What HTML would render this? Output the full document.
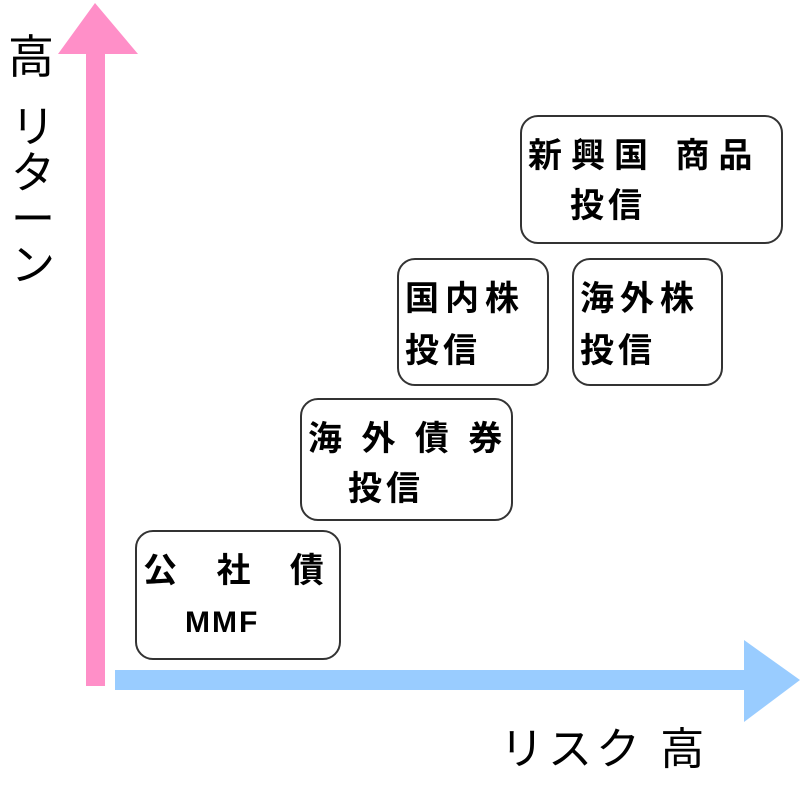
<!DOCTYPE html>
<html><head><meta charset="utf-8"><style>
body{margin:0;width:800px;height:800px;background:#fff;position:relative;overflow:hidden;font-family:"Liberation Sans","Noto Sans CJK JP",sans-serif}
.t{position:absolute;color:#000;line-height:1}
.b{position:absolute;border:2px solid #333;border-radius:18px;box-sizing:border-box;font-weight:bold;font-size:34px;color:#000;line-height:1}
.b span{position:absolute;white-space:pre}
</style></head><body>
<svg width="800" height="800" style="position:absolute;left:0;top:0">
<rect x="86" y="52" width="19" height="634" fill="#ff8fc8"/>
<polygon points="95,3 138,54 58,54" fill="#ff8fc8"/>
<rect x="115" y="670" width="635" height="20" fill="#99ccff"/>
<polygon points="800,680 744,640 744,722" fill="#99ccff"/>
</svg>
<div class="t" style="left:8px;top:34px;font-size:46px">高</div>
<div class="t" style="left:10px;top:105px;font-size:44px;width:46px;line-height:46px;text-align:center">リ<br>タ<br>ー<br>ン</div>
<div class="t" style="left:500px;top:728px;font-size:44px;white-space:pre;letter-spacing:4px">リスク 高</div>
<div class="b" style="left:520px;top:115px;width:263px;height:129px"><span style="left:6px;top:22px;letter-spacing:9px">新興国 商品</span><span style="left:48px;top:72px;letter-spacing:4px">投信</span></div>
<div class="b" style="left:397px;top:258px;width:152px;height:128px"><span style="left:6px;top:22px;letter-spacing:6px">国内株</span><span style="left:6px;top:74px;letter-spacing:4px">投信</span></div>
<div class="b" style="left:572px;top:258px;width:151px;height:128px"><span style="left:6px;top:22px;letter-spacing:6px">海外株</span><span style="left:6px;top:74px;letter-spacing:4px">投信</span></div>
<div class="b" style="left:300px;top:398px;width:213px;height:123px"><span style="left:6px;top:22px;letter-spacing:5px">海 外 債 券</span><span style="left:46px;top:72px;letter-spacing:4px">投信</span></div>
<div class="b" style="left:135px;top:530px;width:206px;height:130px"><span style="left:6px;top:22px;letter-spacing:15px">公 社 債</span><span style="left:48px;top:76px;font-size:30px;letter-spacing:2px">MMF</span></div>
</body></html>
